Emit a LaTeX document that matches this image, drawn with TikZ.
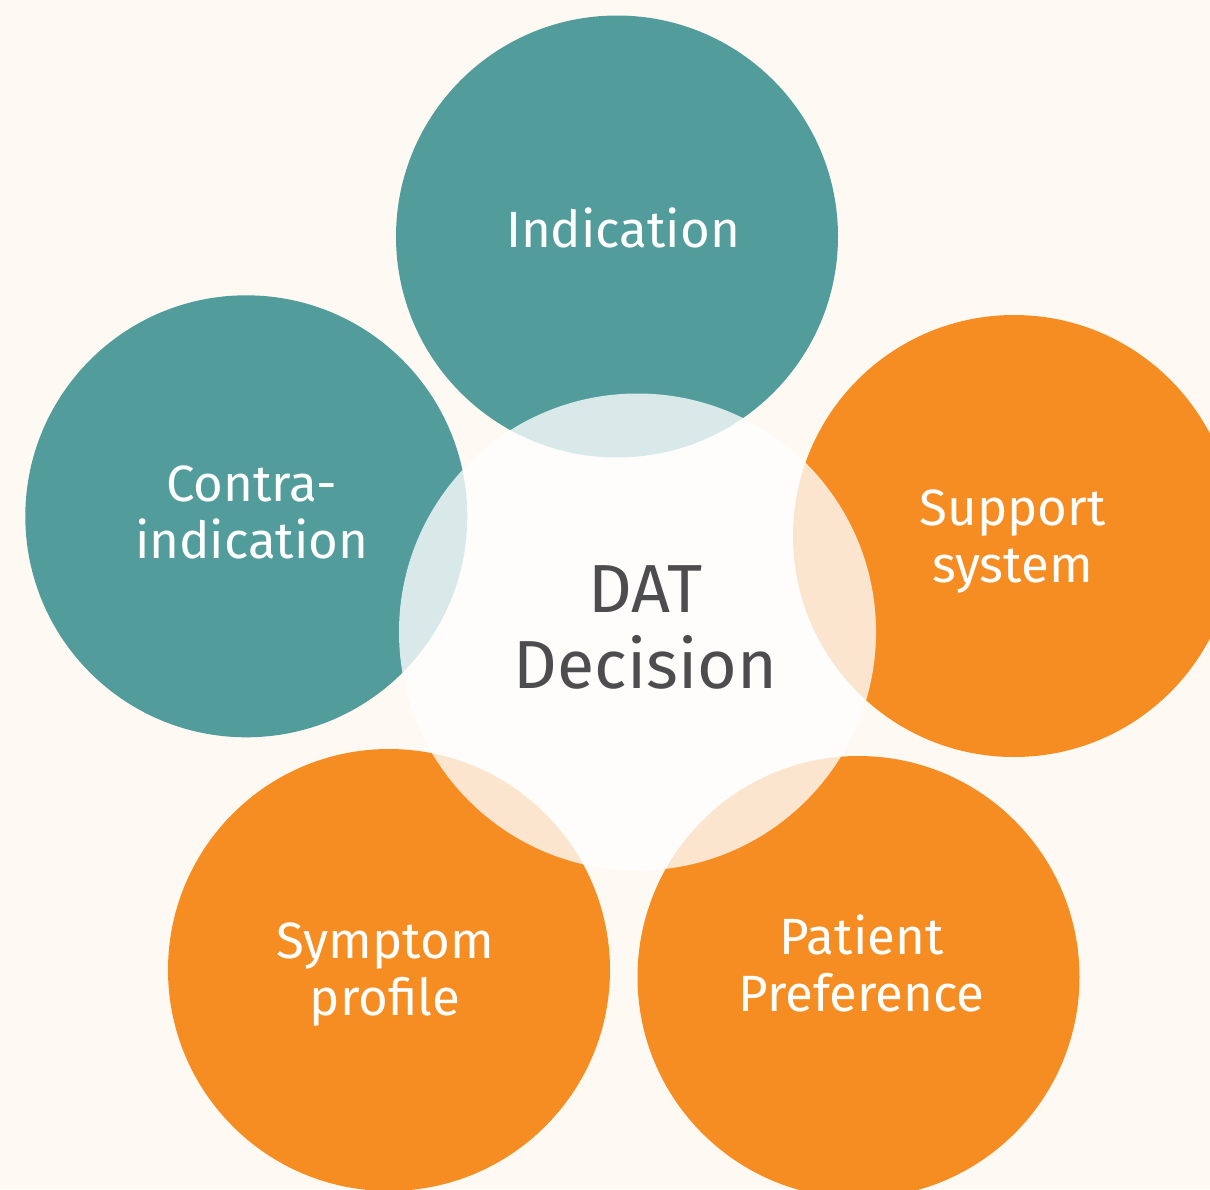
\documentclass[tikz,border=0pt]{standalone}
\usepackage{fontspec}
\setmainfont{Fira Sans}
\usetikzlibrary{positioning}
\definecolor{tealc}{HTML}{529D9B}
\definecolor{orangec}{HTML}{F58D22}
\definecolor{bgc}{HTML}{FEF9F3}
\definecolor{textc}{HTML}{4D4D4F}
\tikzstyle{factor}=[circle,inner sep=0pt,minimum size=442pt]
\tikzstyle{tealdisc}=[factor,fill=tealc]
\tikzstyle{orangedisc}=[factor,fill=orangec]
\tikzstyle{core}=[circle,inner sep=0pt,minimum size=477pt,fill=white,fill opacity=0.78]
\tikzstyle{outertext}=[text=white,align=center,inner sep=0pt,anchor=base,font=\fontsize{51}{57}\selectfont]
\tikzstyle{coretext}=[text=textc,align=center,inner sep=0pt,anchor=base,font=\fontsize{68}{76}\selectfont]

\begin{document}
\begin{tikzpicture}[x=1pt,y=-1pt]
    \useasboundingbox (0,0) rectangle (1210,1189);
    \clip (0,0) rectangle (1210,1189);
    \fill[bgc] (0,0) rectangle (1210,1189);

    % Kreise
    \node[tealdisc] (ind) at (617,236.5) {};
    \node[tealdisc] (contra) at (246.3,516.3) {};
    \node[orangedisc] (support) at (1014,536) {};
    \node[orangedisc] (symptom) at (389,970) {};
    \node[orangedisc] (patient) at (858.5,977) {};
    \node[core] (dat) at (637.5,632) {};

    % Beschriftung (Grundlinie der letzten Zeile)
    \node[outertext] (indlbl) at (623,247) {Indication};
    \node[outertext] (contralbl) at (251.7,558.3) {Contra-\\indication};
    \node[outertext] (supportlbl) at (1012.5,582) {Support\\system};
    \node[outertext] (symptomlbl) at (385,1015) {Symptom\\profile};
    \node[outertext] (patientlbl) at (861.7,1011.7) {Patient\\Preference};
    \node[coretext] (datlbl) at (645.5,688) {DAT\\Decision};

\end{tikzpicture}
\end{document}
